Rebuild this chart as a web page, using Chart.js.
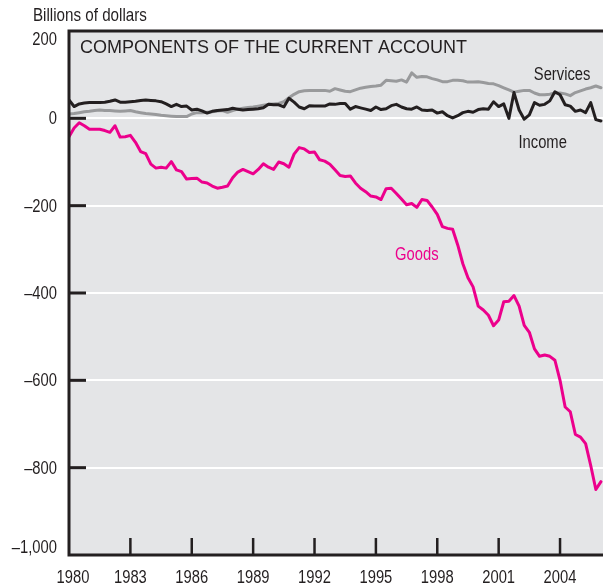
<!DOCTYPE html>
<html>
<head>
<meta charset="utf-8">
<script src="https://cdn.jsdelivr.net/npm/chart.js@4.4.1/dist/chart.umd.min.js"></script>
<style>
  html, body { margin: 0; padding: 0; background: #fff; }
</style>
</head>
<body>
<canvas id="chart" width="603" height="588"></canvas>
<script>
// quarterly values, billions of dollars (annual rate), 1980Q1 onward
const goods = [
  -42, -22, -10, -17, -25, -25, -25, -28, -32, -17, -43, -42, -39, -55, -76, -81,
  -105, -114, -112, -114, -99, -118, -122, -139, -138, -137, -146, -148, -155, -160, -158, -155,
  -136, -123, -117, -122, -127, -117, -104, -112, -117, -100, -104, -112, -82, -67, -70, -78,
  -77, -95, -98, -105, -118, -131, -133, -132, -148, -160, -168, -178, -180, -186, -161, -160,
  -172, -185, -198, -195, -204, -186, -188, -203, -220, -248, -252, -254, -290, -333, -365, -386,
  -430, -439, -451, -475, -462, -420, -419, -406, -430, -474, -490, -528, -545, -542, -545, -554,
  -600, -661, -672, -724, -730, -745, -795, -850, -832
];
const services = [
  10, 11, 13, 15, 16, 18, 19, 18, 18, 17, 16, 17, 18, 15, 13, 11,
  10, 9, 7, 6, 5, 4, 4, 4, 10, 13, 13, 14, 15, 17, 18, 14,
  18, 21, 23, 25, 26, 28, 30, 32, 33, 34, 38, 47, 55, 61, 63, 64,
  64, 64, 64, 62, 68, 65, 62, 61, 65, 69, 71, 73, 74, 76, 87, 86,
  85, 88, 83, 104, 94, 96, 95, 91, 88, 84, 84, 87, 87, 86, 83, 83,
  84, 82, 80, 79, 75, 70, 65, 60, 62, 64, 64, 58, 54, 54, 55, 58,
  58, 56, 52, 59, 63, 67, 70, 74, 70
];
const income = [
  42, 27, 33, 35, 36, 36, 36, 37, 39, 42, 37, 37, 38, 39, 41, 42,
  41, 40, 38, 33, 27, 32, 27, 28, 19, 21, 17, 12, 16, 18, 19, 20,
  23, 21, 19, 20, 21, 22, 24, 32, 31, 31, 26, 46, 37, 26, 22, 29,
  28, 28, 28, 33, 32, 34, 34, 21, 27, 24, 21, 18, 26, 20, 22, 29,
  32, 26, 22, 21, 26, 19, 18, 19, 12, 15, 6, 1, 6, 13, 16, 14,
  20, 22, 21, 38, 27, 33, 0, 59, 19, -2, 8, 36, 30, 32, 40, 61,
  54, 31, 28, 16, 19, 13, 36, -3, -6
];
const quarters = goods.map((_, i) => 1980 + i / 4);

const yearTicks = [1980, 1983, 1986, 1989, 1992, 1995, 1998, 2001, 2004];
const valueTicks = [200, 0, -200, -400, -600, -800, -1000];

const SANS = '"Liberation Sans", Arial, sans-serif';
const PLOT_BG = "#e4e5e7";
const DARK = "#231f20";

const toPoints = arr => arr.map((v, i) => ({ x: quarters[i], y: v }));

// condensed text: regular sans squeezed horizontally
function narrowText(ctx, txt, x, y, align, size) {
  ctx.save();
  ctx.font = size + "px " + SANS;
  ctx.textAlign = align;
  ctx.translate(x, y);
  ctx.scale(0.82, 1);
  ctx.fillText(txt, 0, 0);
  ctx.restore();
}

const framePlugin = {
  id: "frame",
  beforeDraw(chart) {
    const { ctx, chartArea: a } = chart;
    ctx.save();
    ctx.fillStyle = PLOT_BG;
    ctx.fillRect(a.left, a.top, a.right - a.left, a.bottom - a.top);
    ctx.restore();
  },
  afterDatasetsDraw(chart) {
    const { ctx, chartArea: a } = chart;
    const xs = chart.scales.x, ys = chart.scales.y;
    ctx.save();

    // frame
    ctx.strokeStyle = DARK;
    ctx.lineWidth = 3;
    ctx.beginPath();
    ctx.moveTo(a.right, a.top);
    ctx.lineTo(a.left, a.top);
    ctx.lineTo(a.left, a.bottom);
    ctx.lineTo(a.right, a.bottom);
    ctx.stroke();

    // short inner ticks on the value axis
    valueTicks.filter(v => v < 200 && v > -1000).forEach(v => {
      const y = ys.getPixelForValue(v);
      ctx.beginPath();
      ctx.moveTo(a.left, y);
      ctx.lineTo(a.left + 17, y);
      ctx.stroke();
    });

    // inner ticks on the year axis
    ctx.lineWidth = 2.5;
    yearTicks.slice(1).forEach(yr => {
      const x = xs.getPixelForValue(yr);
      ctx.beginPath();
      ctx.moveTo(x, a.bottom);
      ctx.lineTo(x, a.bottom - 17);
      ctx.stroke();
    });

    ctx.fillStyle = DARK;
    ctx.textBaseline = "middle";

    // value labels
    valueTicks.forEach(v => {
      let y = ys.getPixelForValue(v);
      if (v === 200) y += 8;
      if (v === -1000) y -= 8;
      const txt = v < 0 ? "\u2013" + Math.abs(v).toLocaleString("en-US") : String(v);
      narrowText(ctx, txt, a.left - 12, y + 1, "right", 18);
    });

    // year labels
    yearTicks.forEach((yr, i) => {
      const x = xs.getPixelForValue(yr) + (i === 0 ? 4 : 0);
      narrowText(ctx, String(yr), x, a.bottom + 23, "center", 18);
    });

    // unit + title
    ctx.textBaseline = "alphabetic";
    narrowText(ctx, "Billions of dollars", 33, 21, "left", 18.5);
    ctx.font = "18px " + SANS;
    ctx.textAlign = "left";
    ctx.fillText("COMPONENTS OF THE CURRENT ACCOUNT", 80, 53);

    // series labels
    ctx.textBaseline = "middle";
    narrowText(ctx, "Services", xs.getPixelForValue(2004.1), ys.getPixelForValue(100), "center", 18);
    narrowText(ctx, "Income", xs.getPixelForValue(2003.15), ys.getPixelForValue(-56), "center", 18);
    ctx.fillStyle = "#ec008c";
    narrowText(ctx, "Goods", xs.getPixelForValue(1997.0), ys.getPixelForValue(-313), "center", 18);

    ctx.restore();
  }
};

new Chart(document.getElementById("chart").getContext("2d"), {
  type: "line",
  data: {
    datasets: [
      { label: "Income", data: toPoints(income), borderColor: DARK, borderWidth: 3 },
      { label: "Services", data: toPoints(services), borderColor: "#999a9c", borderWidth: 3 },
      { label: "Goods", data: toPoints(goods), borderColor: "#ec008c", borderWidth: 3 }
    ]
  },
  options: {
    responsive: false,
    animation: false,
    devicePixelRatio: 1,
    layout: { padding: { top: 31, left: 0, right: 0, bottom: 0 } },
    elements: {
      point: { radius: 0 },
      line: { tension: 0, borderJoinStyle: "round", borderCapStyle: "round" }
    },
    plugins: { legend: { display: false }, tooltip: { enabled: false } },
    scales: {
      x: {
        type: "linear",
        min: 1980,
        max: 2006.1,
        afterBuildTicks: s => { s.ticks = yearTicks.map(v => ({ value: v })); },
        afterFit: s => { s.height = 33; },
        grid: { display: false },
        border: { display: false },
        ticks: { display: false }
      },
      y: {
        type: "linear",
        min: -1000,
        max: 200,
        afterBuildTicks: s => { s.ticks = valueTicks.map(v => ({ value: v })); },
        afterFit: s => { s.width = 69; },
        grid: {
          color: c => (c.tick && (c.tick.value === 200 || c.tick.value === -1000)) ? "rgba(0,0,0,0)" : "#ffffff",
          lineWidth: 2,
          drawTicks: false
        },
        border: { display: false },
        ticks: { display: false }
      }
    }
  },
  plugins: [framePlugin]
});
</script>
</body>
</html>
